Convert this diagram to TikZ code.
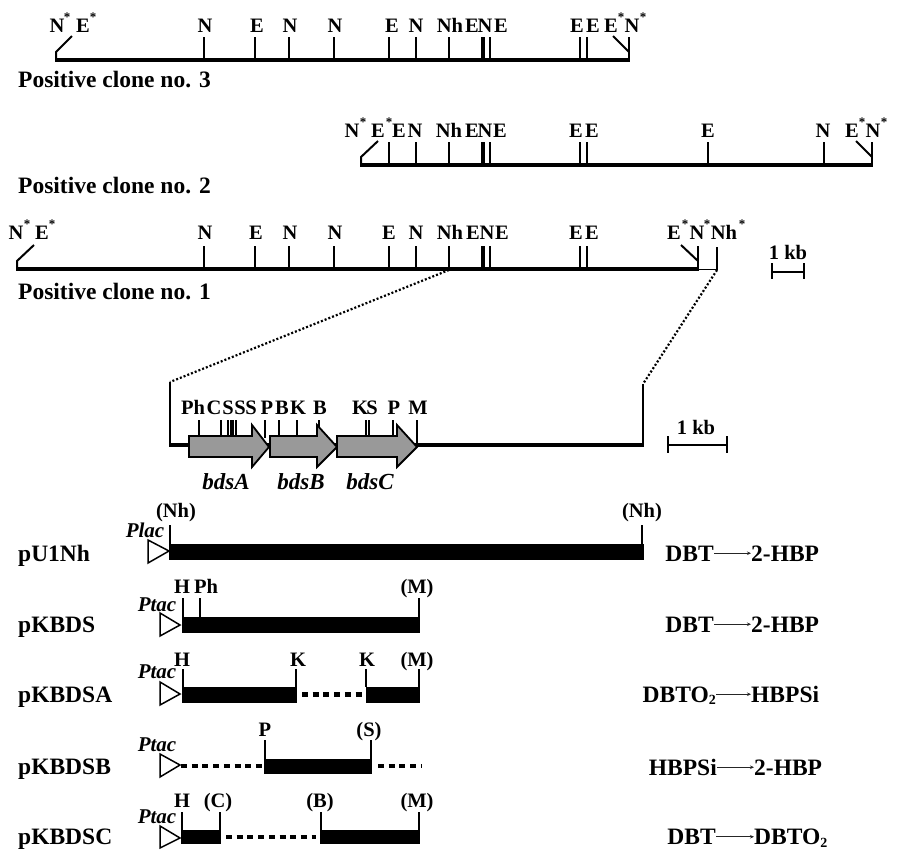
\documentclass[tikz,border=0pt]{standalone}
\usepackage{fontspec}
\setmainfont{Liberation Serif}
\usetikzlibrary{arrows.meta}
\definecolor{genegray}{gray}{0.6}
\newcommand{\sitesize}{\fontsize{20.5}{22}\selectfont\bfseries}
\newcommand{\bigsize}{\fontsize{23.5}{25}\selectfont\bfseries}
\newcommand{\subtwo}{\raisebox{-2.5pt}{\fontsize{14}{14}\selectfont 2}}
\tikzset{
  site/.style={anchor=base,inner sep=0pt,font=\sitesize},
  starmark/.style={anchor=base,inner sep=0pt,font=\fontsize{13}{13}\selectfont\bfseries},
  title/.style={anchor=base west,inner sep=0pt,font=\bigsize},
  prom/.style={anchor=base,inner sep=0pt,font=\fontsize{21}{23}\selectfont\bfseries\itshape},
  gene/.style={anchor=base,inner sep=0pt,font=\fontsize{23}{25}\selectfont\bfseries\itshape},
  rxnl/.style={anchor=base east,inner sep=0pt,text height=15.5pt,text depth=0pt,font=\bigsize},
  rxnr/.style={anchor=base west,inner sep=0pt,text height=15.5pt,text depth=0pt,font=\bigsize},
  rxnarrow/.style={line width=0.9pt,-{Stealth[length=4pt,width=3.5pt]},draw=black!85},
  backbone/.style={line width=4.5pt},
  tick/.style={line width=2pt},
  thintick/.style={line width=1.5pt},
  zoomline/.style={line width=2.2pt,dash pattern=on 2pt off 2pt},
  gap/.style={line width=4.5pt,dash pattern=on 6pt off 4.7pt},
  insert/.style={fill=black,draw=none},
  prombox/.style={draw=black,line width=1.5pt,fill=white,line join=miter},
  genearrow/.style={draw=black,line width=1.8pt,fill=genegray,line join=miter},
  scalebar/.style={line width=2.5pt},
}
\begin{document}
\begin{tikzpicture}[x=1pt,y=-1pt]
\useasboundingbox (0,0) rectangle (897,849);
\fill[white] (0,0) rectangle (897,849);

% ---- clone 3
\draw[backbone,line cap=butt] (55,60) -- (630,60);
\foreach \x in {204,255,289,334,389,416,449,490,580,587} \draw[tick] (\x,37) -- (\x,60);
\draw[line width=4pt] (483,37) -- (483,60);
\draw[tick] (56,60) -- (56,52) -- (72,36);
\draw[tick] (629,60) -- (629,37);
\draw[tick] (629,52) -- (613,36);
\foreach \x/\t in {57/N,83/E,205/N,257/E,290/N,335/N,392/E,416/N,450/Nh,472/E,485/N,501/E,577/E,593/E,611/E,632/N}
  \node[site] (c3-\x) at (\x,32) {\t};
\foreach \x in {67,93,621,643} \node[starmark] (c3s-\x) at (\x,21) {*};
\node[title] (clone3) at (18,87) {Positive clone no. 3};

% ---- clone 2
\draw[backbone] (360,165) -- (873,165);
\foreach \x in {389,416,449,490,580,587,708,824} \draw[tick] (\x,142) -- (\x,165);
\draw[line width=4pt] (483,142) -- (483,165);
\draw[tick] (361,165) -- (361,157) -- (378,141);
\draw[tick] (872,165) -- (872,142);
\draw[tick] (872,157) -- (856,141);
\foreach \x/\t in {352/N,378/E,399/E,415/N,449/Nh,472/E,485/N,500/E,576/E,592/E,708/E,823/N,852/E,873/N}
  \node[site] (c2-\x) at (\x,137) {\t};
\foreach \x in {363,389,862,884} \node[starmark] (c2s-\x) at (\x,126) {*};
\node[title] (clone2) at (18,193) {Positive clone no. 2};

% ---- clone 1
\draw[backbone] (16,269) -- (699,269);
\draw[line width=1pt] (698,269.5) -- (717,269.5);
\foreach \x in {204,255,289,334,389,416,449,490,580,587} \draw[tick] (\x,246) -- (\x,269);
\draw[line width=4pt] (483,246) -- (483,269);
\draw[tick] (17,269) -- (17,261) -- (34,245);
\draw[tick] (698,269) -- (698,246);
\draw[tick] (698,261) -- (681,245);
\draw[tick] (717,270) -- (717,247);
\foreach \x/\t in {16/N,42/E,205/N,256/E,290/N,335/N,389/E,416/N,450/Nh,473/E,487/N,502/E,576/E,592/E,674/E,697/N,724/Nh}
  \node[site] (c1-\x) at (\x,239) {\t};
\foreach \x in {27,52,685,707,742} \node[starmark] (c1s-\x) at (\x,228) {*};
\node[title] (clone1) at (18,299) {Positive clone no. 1};

% ---- scale 1
\node[site] (kb1) at (788,259) {1 kb};
\draw[scalebar] (772,272) -- (804,272);
\draw[scalebar] (772,263) -- (772,279);
\draw[scalebar] (804,263) -- (804,279);

% ---- zoom connectors
\coordinate (zfromL) at (449,270);
\coordinate (zfromR) at (717,270);
\coordinate (ztoL) at (170,382);
\coordinate (ztoR) at (643,384);
\draw[zoomline] (zfromL) -- (ztoL);
\draw[zoomline] (zfromR) -- (ztoR);

% ---- expanded map
\draw[tick] (ztoL) -- (170,445);
\draw[tick] (ztoR) -- (643,447);
\draw[backbone] (169,445) -- (644,445);
\foreach \x in {199,221,228,231,233,236,265,279,297,319,366,369,393} \draw[thintick] (\x,420) -- (\x,438);
\draw[tick] (417,420) -- (417,445);
\foreach \xa/\xb/\xc/\xd in {189/252/269/a,270/317/337/b,337/397/417/c}
  \draw[genearrow] (\xa,436) -- (\xb,436) -- (\xb,425) -- (\xc,447) -- (\xb,467) -- (\xb,457) -- (\xa,457) -- cycle;
\foreach \x/\t/\n in {193/Ph/a,214/C/b,228/S/c,240/S/d,251/S/e,267/P/f,282/B/g,298/K/h,320/B/i,360/K/j,372/S/k,394/P/l,418/M/m}
  \node[site] (m-\n) at (\x,414) {\t};
\node[gene] (bdsA) at (226,489) {bdsA};
\node[gene] (bdsB) at (301,489) {bdsB};
\node[gene] (bdsC) at (370,489) {bdsC};

% ---- scale 2
\node[site] (kb2) at (696,434) {1 kb};
\draw[scalebar] (668,445) -- (727,445);
\draw[scalebar] (668,436) -- (668,453);
\draw[scalebar] (727,436) -- (727,453);

% ---- pU1Nh
\node[title] (pU) at (18,561) {pU1Nh};
\node[prom] (plac) at (145,537) {Plac};
\draw[prombox] (148,540) -- (148,563) -- (169,551) -- cycle;
\draw[tick] (170,525) -- (170,544);
\draw[tick] (642,525) -- (642,544);
\draw[insert] (169,544) rectangle (643.5,559.5);
\node[site] (u-l) at (176,517) {(Nh)};
\node[site] (u-r) at (642,517) {(Nh)};

% ---- pKBDS
\node[title] (pK) at (18,632) {pKBDS};
\node[prom] (ptac1) at (157,611) {Ptac};
\draw[prombox] (160,613) -- (160,636) -- (180,625) -- cycle;
\foreach \x in {182.5,200,419} \draw[tick] (\x,598) -- (\x,617);
\draw[insert] (182,617) rectangle (420,633);
\node[site] (k-h) at (182,593) {H};
\node[site] (k-ph) at (206,593) {Ph};
\node[site] (k-m) at (417,593) {(M)};

% ---- pKBDSA
\node[title] (pA) at (18,702) {pKBDSA};
\node[prom] (ptac2) at (157,678) {Ptac};
\draw[prombox] (160,682) -- (160,705) -- (180,694) -- cycle;
\foreach \x in {183,296,366,419} \draw[tick] (\x,669) -- (\x,687);
\draw[insert] (182,687) rectangle (297,702.5);
\draw[gap] (302,694.5) -- (366,694.5);
\draw[insert] (366,687) rectangle (420,702.5);
\node[site] (a-h) at (182,666) {H};
\node[site] (a-k1) at (298,666) {K};
\node[site] (a-k2) at (367,666) {K};
\node[site] (a-m) at (417,666) {(M)};

% ---- pKBDSB
\node[title] (pB) at (18,774) {pKBDSB};
\node[prom] (ptac3) at (157,751) {Ptac};
\draw[prombox] (160,754) -- (160,777) -- (180,765) -- cycle;
\draw[gap] (181,766) -- (265,766);
\foreach \x in {265,371} \draw[tick] (\x,740) -- (\x,759);
\draw[insert] (264,759) rectangle (372,773.5);
\draw[gap] (378,766) -- (421,766);
\node[site] (b-p) at (265,736) {P};
\node[site] (b-s) at (369,736) {(S)};

% ---- pKBDSC
\node[title] (pC) at (18,844) {pKBDSC};
\node[prom] (ptac4) at (157,823) {Ptac};
\draw[prombox] (160,826) -- (160,848) -- (180,838) -- cycle;
\foreach \x in {182,220,321,419} \draw[tick] (\x,812) -- (\x,830);
\draw[insert] (181,830) rectangle (221,844);
\draw[gap] (226,837) -- (316,837);
\draw[insert] (320,830) rectangle (420,844);
\node[site] (s-h) at (182,807) {H};
\node[site] (s-c) at (218,807) {(C)};
\node[site] (s-b) at (320,807) {(B)};
\node[site] (s-m) at (417,807) {(M)};

% ---- reactions
\node[rxnl] (r1a) at (714,561) {DBT};
\node[rxnr] (r1b) at (751,561) {2-HBP};
\draw[rxnarrow] (r1a) -- (r1b);
\node[rxnl] (r2a) at (714,632) {DBT};
\node[rxnr] (r2b) at (751,632) {2-HBP};
\draw[rxnarrow] (r2a) -- (r2b);
\node[rxnl] (r3a) at (716,702) {DBTO\subtwo};
\node[rxnr] (r3b) at (751,702) {HBPSi};
\draw[rxnarrow] (r3a) -- (r3b);
\node[rxnl] (r4a) at (717,775) {HBPSi};
\node[rxnr] (r4b) at (754,775) {2-HBP};
\draw[rxnarrow] (r4a) -- (r4b);
\node[rxnl] (r5a) at (716,844.5) {DBT};
\node[rxnr] (r5b) at (754,844.5) {DBTO\subtwo};
\draw[rxnarrow] (r5a) -- (r5b);
\end{tikzpicture}
\end{document}
